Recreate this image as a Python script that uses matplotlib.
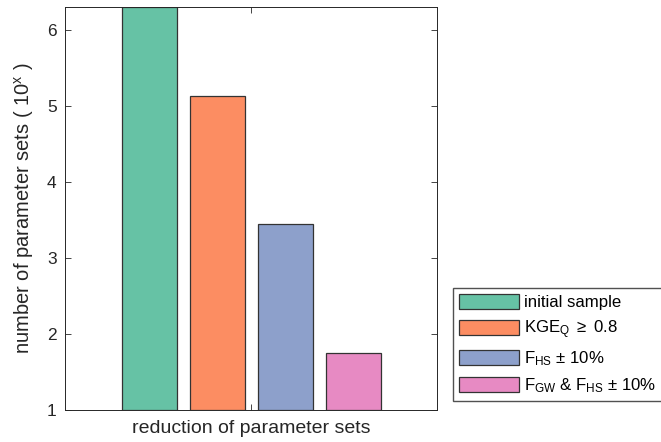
import numpy as np
import matplotlib
matplotlib.use("Agg")
import matplotlib.pyplot as plt

plt.rcParams['font.family'] = ['Liberation Sans', 'DejaVu Sans']
plt.rcParams['mathtext.fontset'] = 'custom'
plt.rcParams['mathtext.rm'] = 'Liberation Sans'
plt.rcParams['mathtext.it'] = 'Liberation Sans:italic'

labels = ['initial sample',
          r'KGE$_\mathregular{Q}$ $\geq$ 0.8',
          r'F$_\mathregular{HS}$ ± 10%',
          r'F$_\mathregular{GW}$ & F$_\mathregular{HS}$ ± 10%']
values = [6.3, 5.13, 3.45, 1.75]
colors = ['#66c2a5', '#fc8d62', '#8da0cb', '#e78ac3']

fig = plt.figure(figsize=(6.61, 4.42), dpi=100)
ax = fig.add_axes([0.0983, 0.0724, 0.5628, 0.9118])

x = np.arange(len(values))
bars = []
for i in range(len(values)):
    b = ax.bar(x[i], values[i] - 1, bottom=1, width=0.8, color=colors[i],
               edgecolor='#333333', linewidth=0.9, label=labels[i])
    bars.append(b)

ax.set_ylim(1, 6.3)
ax.set_xlim(-1.24, 4.23)
ax.set_yticks([1, 2, 3, 4, 5, 6])
ax.set_xticks([1.5])
ax.set_xticklabels([''])
ax.tick_params(direction='in', top=True, right=True, length=4, width=0.6,
               colors='#262626', labelsize=12.5, pad=6)
for s in ax.spines.values():
    s.set_color('#262626')
    s.set_linewidth(0.7)

ax.set_ylabel(r'number of parameter sets ( 10$\mathregular{^x}$ )', fontsize=14.5,
              color='#262626', labelpad=8)
ax.set_xlabel('reduction of parameter sets', fontsize=14, color='#262626', labelpad=1)

fig.legend(handles=[b[0] for b in bars], labels=labels, loc='upper left',
           bbox_to_anchor=(453 / 661, 1 - 288 / 442), fontsize=12.1, frameon=True,
           fancybox=False, edgecolor='#262626', handlelength=3.6, handleheight=1.0,
           labelspacing=0.5, handletextpad=0.25, borderaxespad=0, borderpad=0.35)

plt.savefig('out.png', dpi=100)
